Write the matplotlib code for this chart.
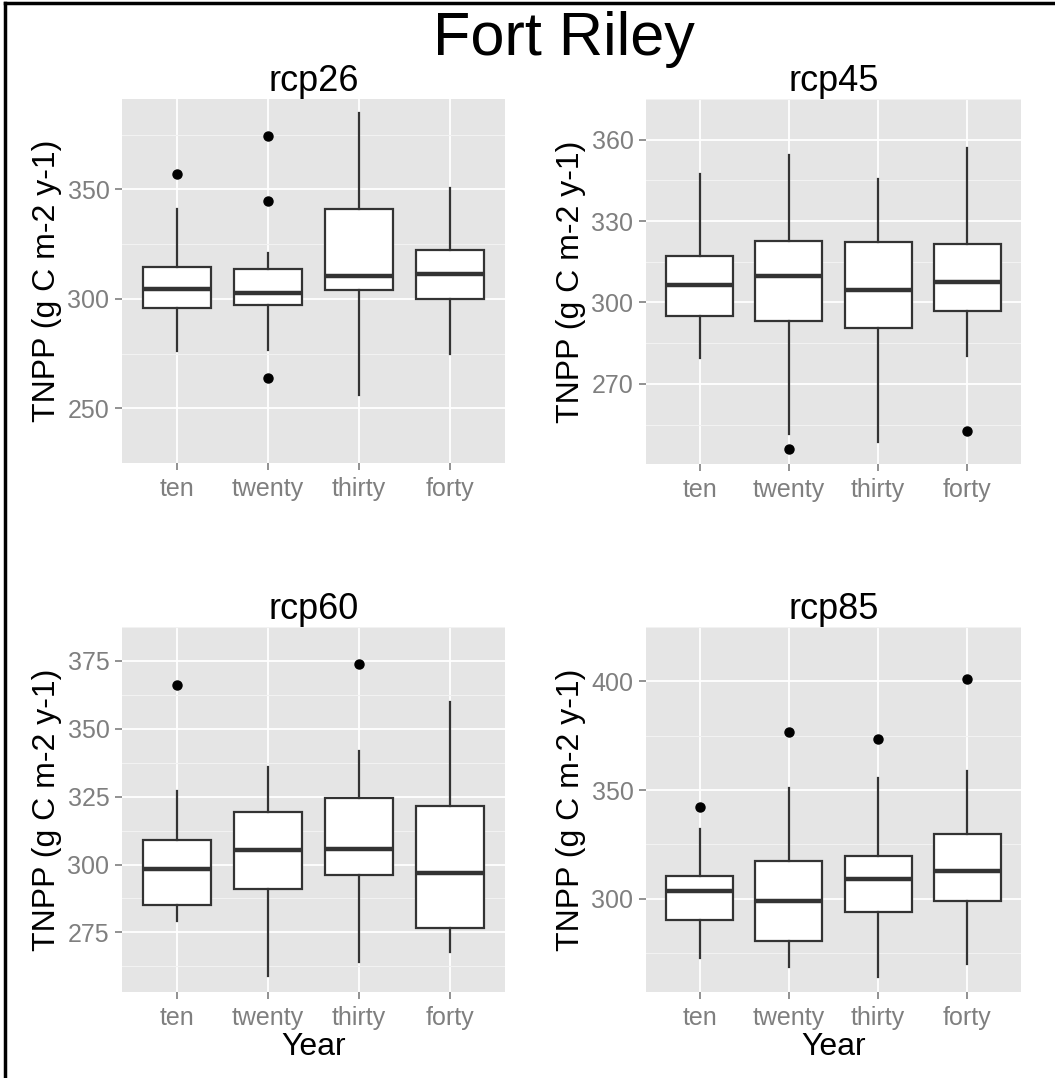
import numpy as np
import matplotlib.pyplot as plt

# box statistics: low whisker, Q1, median, Q3, high whisker
years = ['ten', 'twenty', 'thirty', 'forty']
scenarios = ['rcp26', 'rcp45', 'rcp60', 'rcp85']

rcp26_stats = [
    [276.0, 295.7, 304.3, 314.5, 340.8],
    [276.7, 297.2, 302.5, 313.7, 320.7],
    [256.2, 304.1, 310.6, 341.2, 384.8],
    [274.7, 300.1, 311.5, 322.2, 350.5],
]
rcp26_out = [[357.0], [374.3, 344.7, 263.8], [], []]

rcp45_stats = [
    [279.7, 295.1, 306.4, 317.1, 347.3],
    [251.4, 293.2, 309.7, 322.7, 354.3],
    [248.6, 290.6, 304.7, 322.4, 345.6],
    [280.4, 297.0, 307.7, 321.6, 357.0],
]
rcp45_out = [[], [246.0], [], [252.6]]

rcp60_stats = [
    [279.1, 285.1, 298.5, 309.2, 327.1],
    [258.8, 290.8, 305.3, 319.2, 335.9],
    [264.0, 296.0, 305.8, 324.5, 341.8],
    [267.8, 276.8, 296.9, 321.5, 359.8],
]
rcp60_out = [[366.3], [], [374.0], []]

rcp85_stats = [
    [272.7, 290.4, 303.4, 310.7, 331.9],
    [268.8, 280.4, 299.2, 317.4, 351.1],
    [264.0, 294.0, 309.1, 319.9, 355.6],
    [269.9, 299.2, 312.9, 329.7, 358.9],
]
rcp85_out = [[342.0], [376.9], [373.5], [401.1]]

major_ticks = {
    'rcp26': [250, 300, 350],
    'rcp45': [270, 300, 330, 360],
    'rcp60': [275, 300, 325, 350, 375],
    'rcp85': [300, 350, 400],
}

all_stats = [rcp26_stats, rcp45_stats, rcp60_stats, rcp85_stats]
all_out = [rcp26_out, rcp45_out, rcp60_out, rcp85_out]

plt.rcParams['font.family'] = ['Liberation Sans', 'DejaVu Sans']

W, H = 1055, 1078
fig = plt.figure(figsize=(W / 100, H / 100), dpi=100)

# panel rectangles in pixels: left, top, right, bottom
panels = [
    (122, 99, 505, 463),
    (646, 99, 1021, 464),
    (122, 627, 505, 992),
    (646, 627, 1021, 992),
]
ylab_x = [-0.196, -0.20, -0.196, -0.20]

for i, name in enumerate(scenarios):
    l, t, r, b = panels[i]
    ax = fig.add_axes([l / W, 1 - b / H, (r - l) / W, (b - t) / H])
    ax.set_facecolor('#E5E5E5')
    for s in ax.spines.values():
        s.set_visible(False)

    stats = []
    for k, st in enumerate(all_stats[i]):
        stats.append(dict(whislo=st[0], q1=st[1], med=st[2], q3=st[3],
                          whishi=st[4], fliers=all_out[i][k], label=years[k]))
    ax.bxp(stats, positions=[1, 2, 3, 4], widths=0.75, patch_artist=True,
           showcaps=False,
           boxprops=dict(facecolor='white', edgecolor='#333333', linewidth=1.6),
           whiskerprops=dict(color='#333333', linewidth=1.6),
           medianprops=dict(color='#333333', linewidth=3.2),
           flierprops=dict(marker='o', markerfacecolor='black',
                           markeredgecolor='black', markersize=6.5))

    # ggplot-style limits: 5% expansion on y, 0.6 on discrete x
    vals = [v for st in all_stats[i] for v in st] + [v for o in all_out[i] for v in o]
    lo, hi = min(vals), max(vals)
    pad = 0.05 * (hi - lo)
    ax.set_ylim(lo - pad, hi + pad)
    ax.set_xlim(0.4, 4.6)

    majors = major_ticks[name]
    step = majors[1] - majors[0]
    minors = [m + step / 2 for m in [majors[0] - step] + majors]
    ax.set_yticks(majors)
    ax.set_yticks(minors, minor=True)
    ax.set_xticks([1, 2, 3, 4])
    ax.set_xticklabels(years)
    ax.grid(True, which='major', color='white', linewidth=1.3)
    ax.grid(True, which='minor', axis='y', color='#F2F2F2', linewidth=0.8)
    ax.set_axisbelow(True)
    ax.tick_params(which='major', direction='out', length=5, width=1.2,
                   color='#7F7F7F', labelcolor='#7F7F7F', labelsize=18, pad=4)
    ax.tick_params(which='minor', length=0)
    ax.tick_params(axis='x', pad=5)

    ax.set_title(name, fontsize=26, pad=5)
    ax.set_ylabel('TNPP (g C m-2 y-1)', fontsize=23)
    ax.yaxis.set_label_coords(ylab_x[i], 0.5)
    ax.yaxis.label.set_va('center')
    if i >= 2:
        ax.set_xlabel('Year', fontsize=23)
        ax.xaxis.set_label_coords(0.5, -0.152)
        ax.xaxis.label.set_va('center')

fig.text(564 / W, 1 - 55 / H, 'Fort Riley', ha='center', va='baseline', fontsize=44)

# partial frame along top and left edges
fig.add_artist(plt.Line2D([5 / W, 5 / W], [0, 1 - 3 / H], color='black', linewidth=2.5))
fig.add_artist(plt.Line2D([5 / W, 1], [1 - 3 / H, 1 - 3 / H], color='black', linewidth=2.5))

fig.savefig('out.png', dpi=100)
